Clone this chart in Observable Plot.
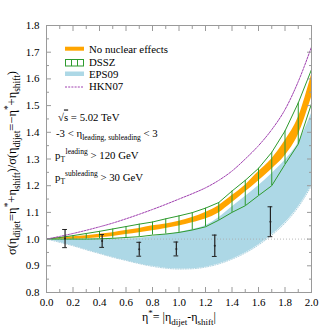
<!DOCTYPE html>
<html><head><meta charset="utf-8">
<script src="https://cdn.jsdelivr.net/npm/d3@7"></script>
<script src="https://cdn.jsdelivr.net/npm/@observablehq/plot@0.6"></script>
<style>body{margin:0;background:#fff} svg{display:block}</style>
</head><body><div id="chart"></div>
<script>
// eta* grid
const etaStar   = [0.0,0.1,0.2,0.3,0.4,0.5,0.6,0.7,0.8,0.9,1.0,1.1,1.2,1.3,1.4,1.5,1.6,1.7,1.8,1.9,2.0];
// No nuclear effects band
const noNucLo   = [1.000,1.000,0.999,1.001,1.005,1.010,1.017,1.024,1.031,1.040,1.049,1.061,1.075,1.098,1.136,1.176,1.218,1.262,1.312,1.390,1.530];
const noNucHi   = [1.000,1.005,1.009,1.013,1.018,1.024,1.032,1.040,1.050,1.057,1.067,1.081,1.100,1.125,1.163,1.202,1.252,1.300,1.368,1.455,1.615];
// DSSZ band
const dsszLo    = [1.000,1.000,1.000,1.000,1.001,1.003,1.006,1.009,1.015,1.019,1.025,1.034,1.046,1.071,1.100,1.125,1.163,1.200,1.280,1.356,1.507];
const dsszHi    = [1.000,1.006,1.013,1.021,1.029,1.038,1.047,1.056,1.064,1.076,1.087,1.099,1.116,1.137,1.180,1.220,1.265,1.325,1.405,1.510,1.635];
// EPS09 band
const eps09Lo   = [1.000,0.988,0.975,0.960,0.946,0.932,0.920,0.908,0.898,0.891,0.888,0.889,0.895,0.907,0.925,0.948,0.978,1.015,1.060,1.120,1.200];
const eps09Hi   = [1.000,1.000,1.000,1.000,1.000,1.000,1.000,1.003,1.010,1.017,1.025,1.036,1.050,1.080,1.120,1.160,1.200,1.245,1.295,1.360,1.470];
// HKN07 curve
const hkn07     = [1.000,1.010,1.021,1.033,1.046,1.060,1.076,1.093,1.111,1.130,1.150,1.170,1.192,1.220,1.255,1.300,1.350,1.410,1.485,1.590,1.720];
// measured points
const dataX     = [0.14,0.42,0.70,0.98,1.27,1.69];
const dataY     = [1.002,0.993,0.962,0.963,0.975,1.065];
const dataErr   = [0.034,0.024,0.026,0.026,0.040,0.056];
// ticks
const xMajor = [0,0.2,0.4,0.6,0.8,1.0,1.2,1.4,1.6,1.8,2.0];
const xMinor = [0.1,0.3,0.5,0.7,0.9,1.1,1.3,1.5,1.7,1.9];
const yMajor = [0.8,0.9,1.0,1.1,1.2,1.3,1.4,1.5,1.6,1.7,1.8];
const yMinor = [0.85,0.95,1.05,1.15,1.25,1.35,1.45,1.55,1.65,1.75];

const GREEN = "#2e9b2e", ORANGE = "#ffa500", BLUE = "#add8e6", PURPLE = "#a040b0", FRAME = "#9a9a9a";

const rows = etaStar.map((x,i)=>({x, oLo:noNucLo[i], oHi:noNucHi[i], dLo:dsszLo[i], dHi:dsszHi[i], eLo:eps09Lo[i], eHi:eps09Hi[i], h:hkn07[i]}));
const vrows = rows.filter(d => d.x > 0.05 && d.x < 1.95);
const pts = dataX.map((x,i)=>({x, y:dataY[i], e:dataErr[i]}));
const blank = () => "";

const svgNode = Plot.plot({
  width: 332, height: 332,
  marginLeft: 46, marginRight: 21, marginTop: 25, marginBottom: 40,
  style: {fontFamily: "'Liberation Serif', serif", fontSize: "11px", background: "white", color: "black"},
  x: {domain: [0, 2], label: null},
  y: {domain: [0.8, 1.8], label: null},
  marks: [
    Plot.areaY(rows, {x:"x", y1:"eLo", y2:"eHi", fill:BLUE, curve:"monotone-x"}),
    Plot.lineY(rows, {x:"x", y:"eLo", stroke:"#93c4d6", strokeWidth:0.8, strokeDasharray:"1,1.5", curve:"monotone-x"}),
    Plot.ruleY([1], {stroke:"#aaa", strokeDasharray:"1,2", strokeWidth:0.8}),
    Plot.areaY(rows, {x:"x", y1:"oLo", y2:"oHi", fill:ORANGE, curve:"monotone-x"}),
    Plot.lineY(rows, {x:"x", y:"dHi", stroke:GREEN, strokeWidth:1}),
    Plot.lineY(rows, {x:"x", y:"dLo", stroke:GREEN, strokeWidth:1}),
    Plot.ruleX(vrows, {x:"x", y1:"dLo", y2:"dHi", stroke:GREEN, strokeWidth:1}),
    Plot.lineY(rows, {x:"x", y:"h", stroke:PURPLE, strokeWidth:1, strokeDasharray:"2,1.2", curve:"monotone-x"}),
    Plot.ruleX(pts, {x:"x", y1:d=>d.y-d.e, y2:d=>d.y+d.e, stroke:"#222", strokeWidth:1.2}),
    Plot.ruleY(pts, {y:d=>d.y+d.e, x1:d=>d.x-0.018, x2:d=>d.x+0.018, stroke:"#222", strokeWidth:1}),
    Plot.ruleY(pts, {y:d=>d.y-d.e, x1:d=>d.x-0.018, x2:d=>d.x+0.018, stroke:"#222", strokeWidth:1}),
    Plot.dot(pts, {x:"x", y:"y", r:1, fill:"#222"}),
    Plot.frame({stroke:FRAME}),
    // inward ticks on all four sides
    Plot.axisX(xMajor, {anchor:"bottom", tickSize:5, dy:-5, tickFormat:blank, label:null, stroke:FRAME}),
    Plot.axisX(xMinor, {anchor:"bottom", tickSize:3, dy:-3, tickFormat:blank, label:null, stroke:FRAME}),
    Plot.axisX(xMajor, {anchor:"top", tickSize:5, dy:5, tickFormat:blank, label:null, stroke:FRAME}),
    Plot.axisX(xMinor, {anchor:"top", tickSize:3, dy:3, tickFormat:blank, label:null, stroke:FRAME}),
    Plot.axisY(yMajor, {anchor:"left", tickSize:5, dx:5, tickFormat:blank, label:null, stroke:FRAME}),
    Plot.axisY(yMinor, {anchor:"left", tickSize:3, dx:3, tickFormat:blank, label:null, stroke:FRAME}),
    Plot.axisY(yMajor, {anchor:"right", tickSize:5, dx:-5, tickFormat:blank, label:null, stroke:FRAME}),
    Plot.axisY(yMinor, {anchor:"right", tickSize:3, dx:-3, tickFormat:blank, label:null, stroke:FRAME}),
    // tick labels
    Plot.axisX(xMajor, {anchor:"bottom", tickSize:0, tickPadding:6, tickFormat:d3.format(".1f"), label:null}),
    Plot.axisY(yMajor, {anchor:"left", tickSize:0, tickPadding:7, tickFormat:d3.format(".1f"), label:null})
  ]
});
document.getElementById("chart").appendChild(svgNode);
const svg = d3.select(svgNode);
const FONT = "'Liberation Serif', serif";

function rich(x, y, parts, size, opts = {}) {
  const t = svg.append("text").attr("x", x).attr("y", y)
    .attr("text-anchor", opts.anchor || "start")
    .style("font-family", FONT).style("font-size", size + "px").attr("fill", "black");
  if (opts.transform) t.attr("transform", opts.transform);
  let off = 0;
  const sc = opts.scale || 0.7;
  const supF = opts.sup || 0.45;
  for (const [txt, k, extra] of parts) {
    const target = k === "sub" ? 0.3*size : k === "sup" ? -supF*size : 0;
    const ts = t.append("tspan").text(txt).attr("dy", target - off);
    if (k) ts.style("font-size", (size*sc) + "px");
    if (extra && extra.dx) ts.attr("dx", extra.dx);
    if (extra && extra.over) ts.style("text-decoration", "overline");
    off = target;
  }
  return t;
}

// Legend
svg.append("rect").attr("x", 65).attr("y", 46.7).attr("width", 19).attr("height", 4).attr("fill", ORANGE);
svg.append("rect").attr("x", 65.5).attr("y", 59.5).attr("width", 18).attr("height", 6.5).attr("fill", "none").attr("stroke", GREEN).attr("stroke-width", 1);
[71.5, 77.5].forEach(x => svg.append("line").attr("x1", x).attr("x2", x).attr("y1", 59.5).attr("y2", 66).attr("stroke", GREEN).attr("stroke-width", 1));
svg.append("rect").attr("x", 65).attr("y", 71.5).attr("width", 19).attr("height", 4.5).attr("fill", BLUE);
svg.append("line").attr("x1", 65).attr("x2", 84).attr("y1", 87).attr("y2", 87).attr("stroke", PURPLE).attr("stroke-width", 1).attr("stroke-dasharray", "2,1.2");
rich(89, 52.5, [["No nuclear effects"]], 10.8);
rich(89, 65.5, [["DSSZ"]], 10.8);
rich(89, 77.5, [["EPS09"]], 10.8);
rich(89, 90, [["HKN07"]], 10.8);

// Annotations
rich(58, 120.5, [["√"], ["s", null, {over:true}], [" = 5.02 TeV"]], 10.8);
rich(56, 136.5, [["-3 < η"], ["leading, subleading", "sub"], [" < 3"]], 10.8);
rich(55, 159, [["p"], ["T", "sub"], ["leading", "sup", {dx: 0.5}], [" > 120 GeV"]], 10.8);
rich(55, 180.5, [["p"], ["T", "sub"], ["subleading", "sup", {dx: 0.5}], [" > 30 GeV"]], 10.8);

// Axis titles
rich(179, 321, [["η"], ["*", "sup"], ["= |η"], ["dijet", "sub"], ["-η"], ["shift", "sub"], ["|"]], 12, {anchor: "middle", scale: 0.75});
rich(0, 0, [["σ(η"], ["dijet", "sub"], ["=η"], ["*", "sup"], ["+η"], ["shift", "sub"], [")/σ(η"], ["dijet", "sub"], ["=−η"], ["*", "sup"], ["+η"], ["shift", "sub"], [")"]], 12.5,
  {anchor: "middle", transform: "translate(16,163) rotate(-90)", scale: 0.75, sup: 0.38});
</script>
</body></html>
